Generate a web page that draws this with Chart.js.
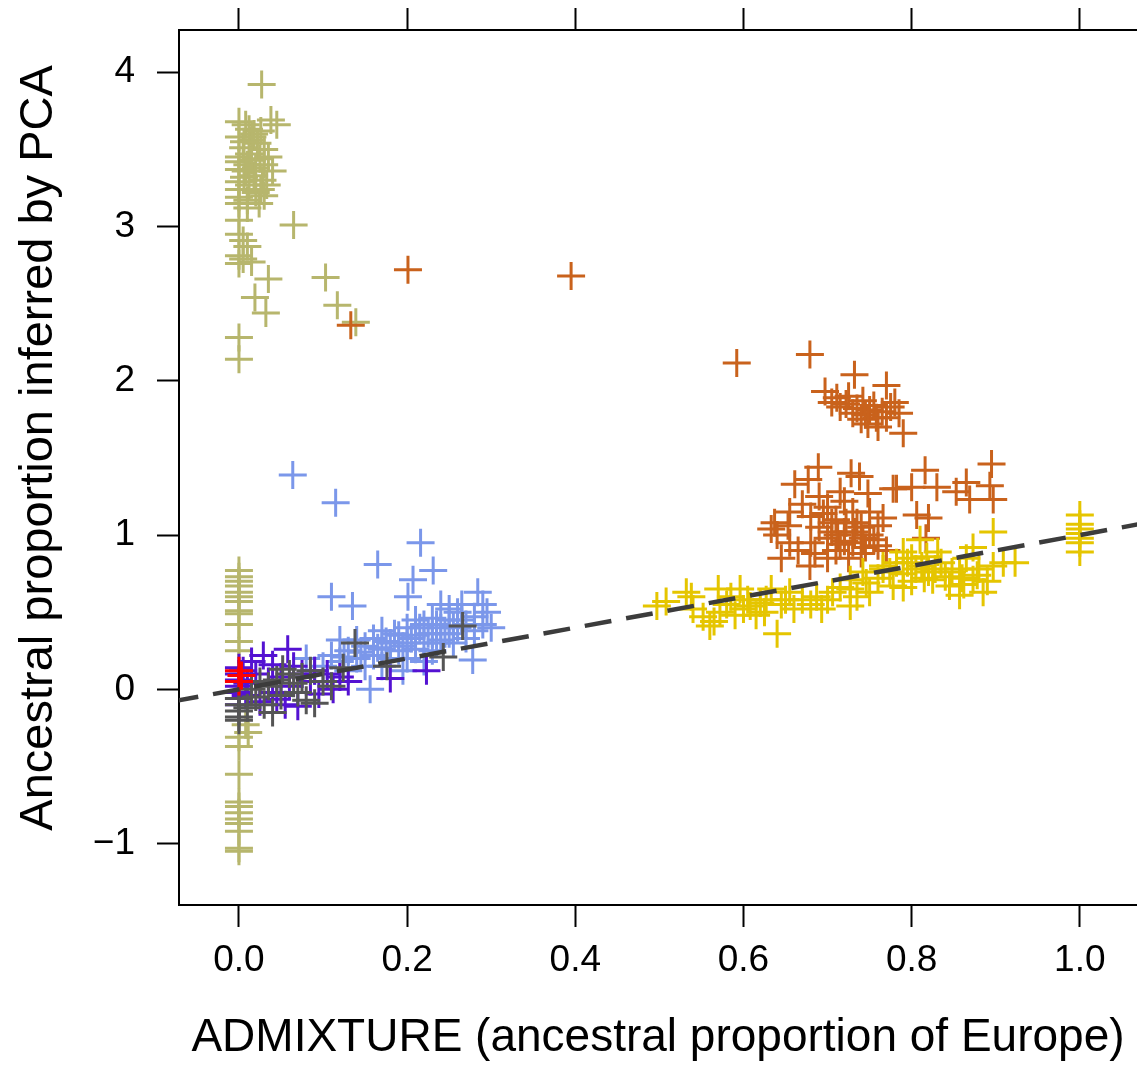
<!DOCTYPE html>
<html>
<head>
<meta charset="utf-8">
<script src="https://cdn.jsdelivr.net/npm/chart.js@4.4.0/dist/chart.umd.min.js"></script>
<style>
  html, body { margin: 0; padding: 0; background: #fff; overflow: hidden; }
  #wrap { width: 1137px; height: 1066px; }
</style>
</head>
<body>
<div id="wrap"><canvas id="chart" width="1137" height="1066"></canvas></div>
<script>
// axis ranges and ticks
const xRange = [-0.0713, 1.068];
const yRange = [-1.398, 4.274];
const xTicks = [0.0, 0.2, 0.4, 0.6, 0.8, 1.0];
const yTicks = [-1, 0, 1, 2, 3, 4];
const xTitle = "ADMIXTURE (ancestral proportion of Europe)";
const yTitle = "Ancestral proportion inferred by PCA";

// reference line y = x
const refLine = [[-0.08, -0.08], [1.08, 1.08]];

// groups as [admixture, pca]
const olivePts = [
  [0.027, 3.92], [0.038, 3.69], [0.045, 3.66], [0.0, 3.68], [0.008, 3.66], [0.012, 3.63],
  [0.018, 3.60], [0.0, 3.58], [0.015, 3.56], [0.022, 3.54], [0.005, 3.51], [0.030, 3.50],
  [0.0, 3.45], [0.012, 3.47], [0.025, 3.44], [0.035, 3.45], [0.0, 3.42], [0.010, 3.40],
  [0.020, 3.38], [0.040, 3.36], [0.0, 3.37], [0.006, 3.32], [0.018, 3.33], [0.028, 3.30],
  [0.0, 3.29], [0.012, 3.27], [0.033, 3.27], [0.0, 3.24], [0.020, 3.22], [0.030, 3.20],
  [0.0, 3.19], [0.010, 3.17], [0.024, 3.15], [0.0, 3.15], [0.010, 3.12], [0.0, 3.04],
  [0.0, 2.95], [0.005, 2.91], [0.010, 2.87], [0.0, 2.81], [0.005, 2.79], [0.015, 2.77],
  [0.0, 2.76], [0.065, 3.01], [0.035, 2.66], [0.103, 2.67], [0.117, 2.49], [0.019, 2.54],
  [0.032, 2.44], [0.0, 2.28], [0.139, 2.38], [0.0, 2.14], [0.016, 3.58], [0.026, 3.62],
  [0.006, 3.55], [0.030, 3.40], [0.015, 3.43], [0.008, 3.36], [0.026, 3.24],
  [0.0, 0.77], [0.0, 0.73], [0.0, 0.70], [0.0, 0.67], [0.0, 0.63], [0.0, 0.60], [0.0, 0.57],
  [0.0, 0.51], [0.0, 0.49], [0.0, 0.42], [0.0, 0.31], [0.0, 0.25], [0.008, -0.23],
  [0.011, -0.28], [0.0, -0.31], [0.0, -0.37], [0.0, -0.55], [0.0, -0.73], [0.0, -0.76],
  [0.0, -0.80], [0.0, -0.84], [0.0, -0.87], [0.0, -0.92], [0.0, -1.03], [0.0, -1.05]
];
const orangePts = [
  [0.133, 2.36], [0.201, 2.72], [0.395, 2.68], [0.592, 2.115], [0.679, 2.17],
  [0.732, 2.04], [0.770, 1.97], [0.697, 1.93], [0.711, 1.89], [0.722, 1.85], [0.742, 1.87],
  [0.750, 1.81], [0.760, 1.70], [0.730, 1.79], [0.790, 1.66], [0.715, 1.83], [0.735, 1.82],
  [0.745, 1.78], [0.755, 1.84], [0.765, 1.80], [0.775, 1.83], [0.785, 1.79], [0.740, 1.75],
  [0.725, 1.90], [0.705, 1.86], [0.758, 1.76], [0.748, 1.72], [0.770, 1.76], [0.780, 1.86],
  [0.689, 1.44], [0.728, 1.40], [0.661, 1.33], [0.677, 1.36], [0.748, 1.27], [0.637, 1.08],
  [0.633, 1.04], [0.653, 1.06], [0.679, 0.80], [0.778, 1.30], [0.895, 1.46], [0.893, 1.32],
  [0.897, 1.23], [0.816, 1.42], [0.830, 1.31], [0.782, 1.30], [0.800, 1.31], [0.853, 1.28],
  [0.865, 1.34], [0.869, 1.23], [0.820, 1.11], [0.806, 1.13], [0.738, 1.38], [0.766, 1.11],
  [0.817, 0.98], [0.670, 1.20], [0.680, 1.12], [0.690, 1.05], [0.700, 1.18], [0.700, 0.98],
  [0.710, 1.10], [0.710, 0.90], [0.720, 1.22], [0.720, 1.02], [0.730, 1.15], [0.730, 0.95],
  [0.740, 1.05], [0.740, 0.88], [0.750, 1.00], [0.750, 1.15], [0.760, 0.93], [0.760, 1.06],
  [0.700, 0.85], [0.680, 0.95], [0.665, 0.90], [0.655, 0.95], [0.690, 1.25], [0.715, 1.28],
  [0.725, 0.85], [0.745, 0.92], [0.735, 1.08], [0.705, 1.02], [0.695, 1.14], [0.685, 0.88],
  [0.720, 0.96], [0.755, 0.97], [0.770, 0.90], [0.640, 1.00], [0.655, 1.15], [0.645, 0.85],
  [0.712, 1.00], [0.722, 1.08], [0.732, 1.02], [0.742, 0.98], [0.715, 0.94], [0.705, 1.08]
];
const yellowPts = [
  [0.497, 0.54], [0.508, 0.57], [0.532, 0.63], [0.538, 0.60], [0.570, 0.65], [0.596, 0.65],
  [0.552, 0.47], [0.560, 0.41], [0.572, 0.50], [0.608, 0.54], [0.627, 0.58], [0.640, 0.36],
  [0.633, 0.65], [0.655, 0.63], [0.687, 0.60], [0.693, 0.52], [0.706, 0.63], [0.727, 0.65],
  [0.746, 0.69], [0.766, 0.78], [0.782, 0.82], [0.727, 0.71], [0.742, 0.76], [0.766, 0.80],
  [0.778, 0.67], [0.790, 0.89], [0.810, 0.97], [0.812, 0.80], [0.831, 0.89], [0.825, 0.71],
  [0.857, 0.78], [0.857, 0.61], [0.873, 0.92], [0.873, 0.71], [0.885, 0.63], [0.897, 1.02],
  [0.909, 0.82], [0.923, 0.82], [0.845, 0.67], [0.897, 0.80], [0.727, 0.54], [0.750, 0.63],
  [0.774, 0.76], [0.580, 0.55], [0.590, 0.48], [0.600, 0.52], [0.615, 0.48], [0.620, 0.56],
  [0.645, 0.55], [0.660, 0.52], [0.670, 0.58], [0.680, 0.55], [0.700, 0.58], [0.715, 0.66],
  [0.735, 0.60], [0.760, 0.72], [0.790, 0.75], [0.800, 0.85], [0.820, 0.76], [0.835, 0.82],
  [0.840, 0.73], [0.860, 0.72], [0.865, 0.85], [0.880, 0.78], [0.890, 0.70], [0.800, 0.70],
  [0.790, 0.66], [0.540, 0.52], [0.565, 0.44], [0.805, 0.78], [0.815, 0.72], [0.828, 0.78],
  [0.848, 0.76], [0.862, 0.68], [0.878, 0.74], [0.795, 0.82], [0.818, 0.86], [0.585, 0.60],
  [0.605, 0.58], [0.625, 0.50], [0.650, 0.58],
  [1.0, 1.13], [1.0, 1.07], [1.0, 1.04], [1.0, 1.01], [1.0, 0.98], [1.0, 0.95], [1.0, 0.89]
];
const bluePts = [
  [0.064, 1.39], [0.115, 1.21], [0.216, 0.95], [0.165, 0.81], [0.231, 0.77], [0.207, 0.71],
  [0.110, 0.60], [0.135, 0.54], [0.201, 0.60], [0.284, 0.63], [0.295, 0.50], [0.290, 0.55],
  [0.156, 0.00], [0.278, 0.19], [0.120, 0.32], [0.100, 0.15], [0.110, 0.22], [0.120, 0.18],
  [0.130, 0.25], [0.130, 0.12], [0.140, 0.20], [0.150, 0.28], [0.150, 0.15], [0.160, 0.22],
  [0.160, 0.33], [0.170, 0.26], [0.170, 0.15], [0.180, 0.30], [0.180, 0.20], [0.190, 0.35],
  [0.190, 0.25], [0.200, 0.30], [0.200, 0.40], [0.200, 0.20], [0.210, 0.35], [0.210, 0.26],
  [0.220, 0.42], [0.220, 0.30], [0.230, 0.36], [0.230, 0.46], [0.230, 0.25], [0.240, 0.40],
  [0.240, 0.32], [0.250, 0.45], [0.250, 0.36], [0.260, 0.40], [0.260, 0.50], [0.270, 0.42],
  [0.270, 0.33], [0.280, 0.38], [0.280, 0.47], [0.290, 0.42], [0.300, 0.40], [0.250, 0.52],
  [0.210, 0.45], [0.170, 0.38], [0.140, 0.32], [0.090, 0.12], [0.080, 0.20], [0.220, 0.18],
  [0.195, 0.12], [0.240, 0.55], [0.265, 0.55], [0.185, 0.36], [0.205, 0.33], [0.215, 0.40],
  [0.225, 0.36], [0.235, 0.42], [0.245, 0.36], [0.255, 0.41], [0.265, 0.45], [0.175, 0.31],
  [0.165, 0.27], [0.145, 0.24], [0.125, 0.21], [0.195, 0.28], [0.235, 0.30], [0.255, 0.30]
];
const purplePts = [
  [0.0, 0.14], [0.0, 0.10], [0.0, 0.06], [0.0, 0.02], [0.0, -0.02], [0.0, -0.06], [0.0, -0.10],
  [0.005, 0.12], [0.008, -0.04], [0.010, 0.04], [0.029, 0.22], [0.058, 0.26], [0.223, 0.12],
  [0.180, 0.07], [0.112, 0.00], [0.070, -0.11], [0.045, -0.065], [0.020, 0.10], [0.035, 0.05],
  [0.040, -0.02], [0.050, 0.08], [0.060, 0.02], [0.075, 0.10], [0.085, 0.05], [0.095, -0.03],
  [0.130, 0.05], [0.025, -0.08], [0.055, -0.10], [0.065, 0.15], [0.015, 0.18], [0.040, 0.16],
  [0.090, 0.12], [0.105, 0.10], [0.120, 0.08]
];
const grayPts = [
  [0.138, 0.30], [0.266, 0.41], [0.243, 0.21], [0.176, 0.15], [0.124, 0.14], [0.090, -0.09],
  [0.052, 0.13], [0.0, -0.06], [0.0, -0.10], [0.0, -0.14], [0.0, -0.18], [0.0, -0.20],
  [0.010, -0.12], [0.015, 0.00], [0.020, -0.05], [0.025, 0.05], [0.030, -0.10], [0.035, 0.02],
  [0.045, 0.06], [0.050, -0.04], [0.060, 0.10], [0.065, 0.04], [0.070, -0.02], [0.075, 0.08],
  [0.080, -0.07], [0.100, 0.05], [0.110, 0.02], [0.040, -0.15], [0.085, 0.12]
];
const redPts = [[0.0, 0.12], [0.0, 0.05], [0.003, 0.09]];

const FONT = "'Liberation Sans', Arial, Helvetica, sans-serif";

function toXY(list) {
    return list.map(p => ({ x: p[0], y: p[1] }));
}

function crossSet(pts, color, order) {
    return {
        type: "scatter",
        data: toXY(pts),
        pointStyle: "cross",
        pointRadius: 14,
        pointHoverRadius: 14,
        pointBorderWidth: 3,
        borderColor: color,
        backgroundColor: color,
        order: order
    };
}

// same tick positions on bottom and top
function fixTicks(list) {
    return scale => { scale.ticks = list.map(v => ({ value: v })); };
}

// pin the axis boxes so the plot box sits where the reference has it
function fitBox(size) {
    return scale => {
        if (scale.isHorizontal()) scale.height = size;
        else scale.width = size;
        scale.paddingTop = 0;
        scale.paddingBottom = 0;
        scale.paddingLeft = 0;
        scale.paddingRight = 0;
    };
}

const axisGrid = {
    display: true,
    drawOnChartArea: false,
    drawTicks: true,
    tickLength: 22,
    tickWidth: 2,
    tickColor: "#000"
};

new Chart(document.getElementById("chart"), {
    type: "scatter",
    data: {
        datasets: [
            {
                type: "line",
                data: toXY(refLine),
                borderColor: "#3c3c3c",
                borderWidth: 4.5,
                borderDash: [27, 15],
                pointRadius: 0,
                fill: false,
                order: 0
            },
            crossSet(redPts, "#ff0000", 1),
            crossSet(grayPts, "#555555", 2),
            crossSet(purplePts, "#5412d2", 3),
            crossSet(bluePts, "#7b97ea", 4),
            crossSet(yellowPts, "#e5c500", 5),
            crossSet(orangePts, "#c9621c", 6),
            crossSet(olivePts, "#b7b66d", 7)
        ]
    },
    options: {
        responsive: false,
        animation: false,
        events: [],
        layout: { padding: 0, autoPadding: false },
        plugins: { legend: { display: false }, tooltip: { enabled: false } },
        scales: {
            x: {
                type: "linear",
                position: "bottom",
                min: xRange[0],
                max: xRange[1],
                afterBuildTicks: fixTicks(xTicks),
                afterFit: fitBox(161),
                grid: axisGrid,
                border: { display: true, color: "#000", width: 2 },
                ticks: {
                    color: "#000",
                    padding: 12,
                    maxRotation: 0,
                    font: { family: FONT, size: 37 },
                    callback: v => v.toFixed(1)
                },
                title: {
                    display: true,
                    text: xTitle,
                    color: "#000",
                    padding: { top: 0, bottom: 0 },
                    font: { family: FONT, size: 46, lineHeight: 1.2 }
                }
            },
            x2: {
                type: "linear",
                position: "top",
                min: xRange[0],
                max: xRange[1],
                afterBuildTicks: fixTicks(xTicks),
                afterFit: fitBox(30),
                grid: axisGrid,
                border: { display: true, color: "#000", width: 2 },
                ticks: { display: false }
            },
            y: {
                type: "linear",
                position: "left",
                min: yRange[0],
                max: yRange[1],
                afterBuildTicks: fixTicks(yTicks),
                afterFit: fitBox(179),
                grid: axisGrid,
                border: { display: true, color: "#000", width: 2 },
                ticks: {
                    color: "#000",
                    padding: 22,
                    font: { family: FONT, size: 37 },
                    callback: v => v < 0 ? "\u2212" + Math.abs(v) : String(v)
                },
                title: {
                    display: true,
                    // leading spaces lift the centred text to where the reference has it
                    text: "\u00a0\u00a0\u00a0" + yTitle,
                    color: "#000",
                    padding: { top: 11, bottom: 0 },
                    font: { family: FONT, size: 47, lineHeight: 1.2 }
                }
            }
        }
    }
});
</script>
</body>
</html>
